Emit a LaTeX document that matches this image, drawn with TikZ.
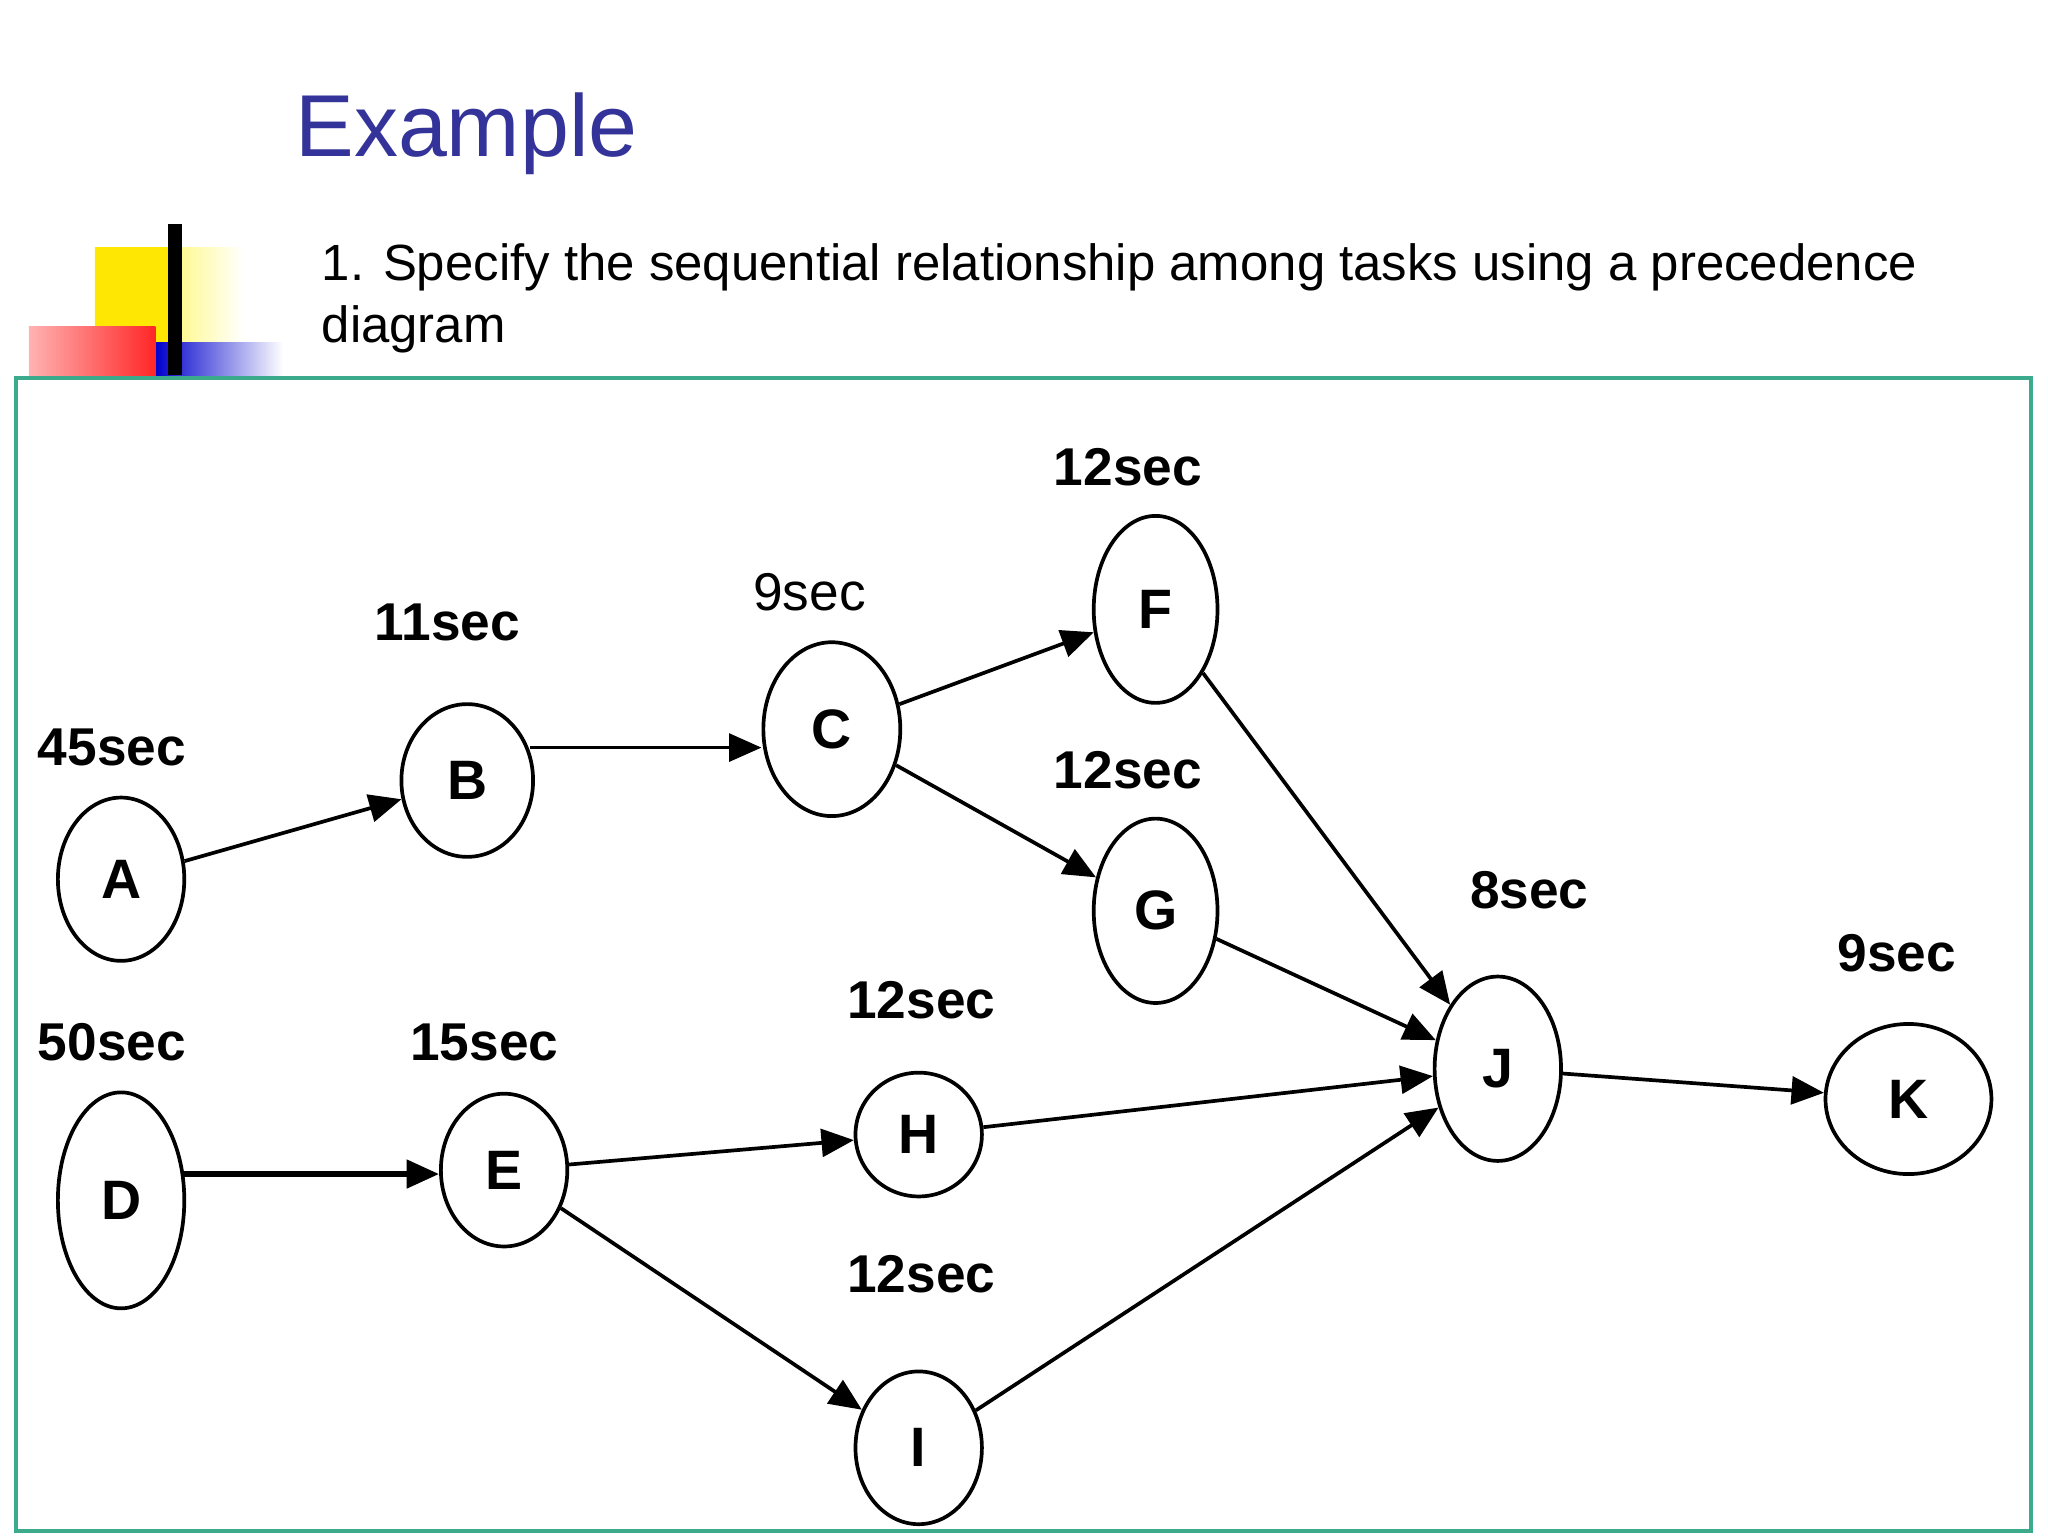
\documentclass[tikz,border=0pt]{standalone}
\usepackage{fontspec}
\setmainfont{Liberation Sans}
\usetikzlibrary{arrows.meta,shapes.geometric}
\definecolor{titleblue}{RGB}{51,51,153}
\definecolor{frameteal}{RGB}{60,170,140}
\begin{document}
\begin{tikzpicture}[x=0.01cm,y=-0.01cm,
  task/.style={draw,ellipse,thick,inner sep=0pt,font=\fontsize{12pt}{14pt}\selectfont\bfseries},
  dur/.style={font=\fontsize{11.5pt}{14pt}\selectfont\bfseries},
  arr/.style={thick,-{Triangle[length=7pt,width=6pt]}}]
\useasboundingbox (0,0) rectangle (1556,1167);
% logo
\shade[left color=yellow!90!orange,right color=white] (72,188) rectangle (185,262);
\fill[yellow!90!orange] (72,188) rectangle (133,262);
\shade[left color=blue!80!black,right color=white] (118,260) rectangle (215,285);
\shade[left color=red!30,right color=red!85] (22,248) rectangle (118,285);
\draw[line width=3pt] (133,170) -- (133,285);
% title and text
\node[anchor=west,text=titleblue,font=\fontsize{19pt}{22pt}\selectfont] (title) at (212,102) {Example};
\node[anchor=west,font=\fontsize{11pt}{14pt}\selectfont] (t1) at (232,203) {1. Specify the sequential relationship among tasks using a precedence};
\node[anchor=west,font=\fontsize{11pt}{14pt}\selectfont] (t2) at (232,250) {diagram};
\draw[frameteal,thick] (12,287) rectangle (1543,1163);
% nodes
\node[task,minimum width=0.96cm,minimum height=1.24cm] (A) at (92,668) {A};
\node[task,minimum width=1.0cm,minimum height=1.16cm] (B) at (355,593) {B};
\node[task,minimum width=1.04cm,minimum height=1.32cm] (C) at (632,554) {C};
\node[task,minimum width=0.94cm,minimum height=1.42cm] (F) at (878,463) {F};
\node[task,minimum width=0.94cm,minimum height=1.40cm] (G) at (878,692) {G};
\node[task,minimum width=0.96cm,minimum height=1.64cm] (D) at (92,912) {D};
\node[task,minimum width=0.96cm,minimum height=1.16cm] (E) at (383,889) {E};
\node[task,minimum width=0.96cm,minimum height=0.94cm] (H) at (698,862) {H};
\node[task,minimum width=0.96cm,minimum height=1.16cm] (I) at (698,1100) {I};
\node[task,minimum width=0.96cm,minimum height=1.40cm] (J) at (1138,812) {J};
\node[task,minimum width=1.26cm,minimum height=1.14cm] (K) at (1450,835) {K};
% durations
\node[dur] (dA) at (85,568) {45sec};
\node[dur] (dB) at (340,473) {11sec};
\node[font=\fontsize{11.5pt}{14pt}\selectfont] (dC) at (615,450) {9sec};
\node[dur] (dF) at (857,355) {12sec};
\node[dur] (dG) at (857,585) {12sec};
\node[dur] (dJ) at (1162,676) {8sec};
\node[dur] (dK) at (1441,724) {9sec};
\node[dur] (dD) at (85,792) {50sec};
\node[dur] (dE) at (368,792) {15sec};
\node[dur] (dH) at (700,760) {12sec};
\node[dur] (dI) at (700,968) {12sec};
% edges
\coordinate (bc) at (403,568);
\coordinate (de) at (140,892);
\draw[arr] (A) -- (B);
\draw[arr] (bc) -- (bc -| C.west);
\draw[arr] (C) -- (F);
\draw[arr] (C) -- (G);
\draw[arr] (F) -- (J);
\draw[arr] (G) -- (J);
\draw[arr,very thick] (de) -- (de -| E.west);
\draw[arr] (E) -- (H);
\draw[arr] (E) -- (I);
\draw[arr] (H) -- (J);
\draw[arr] (I) -- (J);
\draw[arr] (J) -- (K);
\end{tikzpicture}
\end{document}
